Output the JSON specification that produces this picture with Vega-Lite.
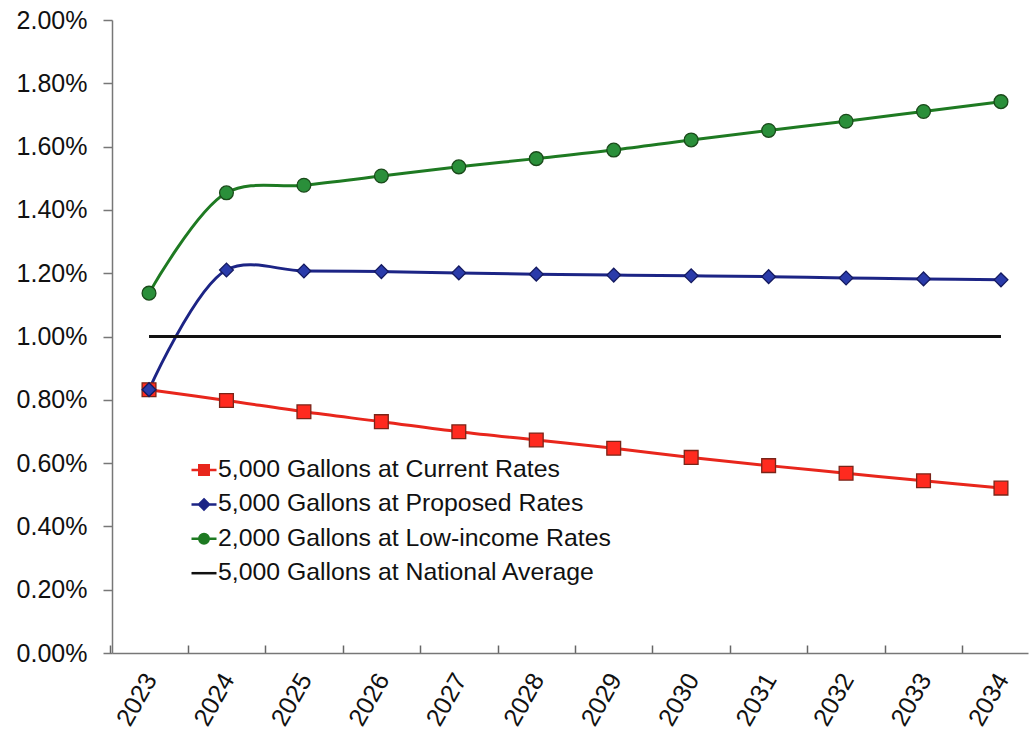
{
  "$schema": "https://vega.github.io/schema/vega-lite/v6.json",
  "width": 916,
  "height": 633,
  "autosize": {"type": "none"},
  "padding": {"left": 112, "top": 20, "right": 3, "bottom": 81},
  "background": "white",
  "config": {"view": {"stroke": null}, "font": "Liberation Sans"},
  "data": {
    "values": [
      {"series": "5,000 Gallons at Current Rates", "year": 2023, "share": 0.00832},
      {"series": "5,000 Gallons at Current Rates", "year": 2024, "share": 0.00798},
      {"series": "5,000 Gallons at Current Rates", "year": 2025, "share": 0.00762},
      {"series": "5,000 Gallons at Current Rates", "year": 2026, "share": 0.00731},
      {"series": "5,000 Gallons at Current Rates", "year": 2027, "share": 0.00699},
      {"series": "5,000 Gallons at Current Rates", "year": 2028, "share": 0.00673},
      {"series": "5,000 Gallons at Current Rates", "year": 2029, "share": 0.00647},
      {"series": "5,000 Gallons at Current Rates", "year": 2030, "share": 0.00618},
      {"series": "5,000 Gallons at Current Rates", "year": 2031, "share": 0.00592},
      {"series": "5,000 Gallons at Current Rates", "year": 2032, "share": 0.00568},
      {"series": "5,000 Gallons at Current Rates", "year": 2033, "share": 0.00544},
      {"series": "5,000 Gallons at Current Rates", "year": 2034, "share": 0.00521},
      {"series": "5,000 Gallons at Proposed Rates", "year": 2023, "share": 0.00832},
      {"series": "5,000 Gallons at Proposed Rates", "year": 2024, "share": 0.0121},
      {"series": "5,000 Gallons at Proposed Rates", "year": 2025, "share": 0.01207},
      {"series": "5,000 Gallons at Proposed Rates", "year": 2026, "share": 0.01205},
      {"series": "5,000 Gallons at Proposed Rates", "year": 2027, "share": 0.01201},
      {"series": "5,000 Gallons at Proposed Rates", "year": 2028, "share": 0.01197},
      {"series": "5,000 Gallons at Proposed Rates", "year": 2029, "share": 0.01194},
      {"series": "5,000 Gallons at Proposed Rates", "year": 2030, "share": 0.01192},
      {"series": "5,000 Gallons at Proposed Rates", "year": 2031, "share": 0.01189},
      {"series": "5,000 Gallons at Proposed Rates", "year": 2032, "share": 0.01185},
      {"series": "5,000 Gallons at Proposed Rates", "year": 2033, "share": 0.01182},
      {"series": "5,000 Gallons at Proposed Rates", "year": 2034, "share": 0.01179},
      {"series": "2,000 Gallons at Low-income Rates", "year": 2023, "share": 0.01137},
      {"series": "2,000 Gallons at Low-income Rates", "year": 2024, "share": 0.01454},
      {"series": "2,000 Gallons at Low-income Rates", "year": 2025, "share": 0.01478},
      {"series": "2,000 Gallons at Low-income Rates", "year": 2026, "share": 0.01507},
      {"series": "2,000 Gallons at Low-income Rates", "year": 2027, "share": 0.01536},
      {"series": "2,000 Gallons at Low-income Rates", "year": 2028, "share": 0.01562},
      {"series": "2,000 Gallons at Low-income Rates", "year": 2029, "share": 0.01589},
      {"series": "2,000 Gallons at Low-income Rates", "year": 2030, "share": 0.01621},
      {"series": "2,000 Gallons at Low-income Rates", "year": 2031, "share": 0.01651},
      {"series": "2,000 Gallons at Low-income Rates", "year": 2032, "share": 0.0168},
      {"series": "2,000 Gallons at Low-income Rates", "year": 2033, "share": 0.01711},
      {"series": "2,000 Gallons at Low-income Rates", "year": 2034, "share": 0.01742},
      {"series": "5,000 Gallons at National Average", "year": 2023, "share": 0.01},
      {"series": "5,000 Gallons at National Average", "year": 2024, "share": 0.01},
      {"series": "5,000 Gallons at National Average", "year": 2025, "share": 0.01},
      {"series": "5,000 Gallons at National Average", "year": 2026, "share": 0.01},
      {"series": "5,000 Gallons at National Average", "year": 2027, "share": 0.01},
      {"series": "5,000 Gallons at National Average", "year": 2028, "share": 0.01},
      {"series": "5,000 Gallons at National Average", "year": 2029, "share": 0.01},
      {"series": "5,000 Gallons at National Average", "year": 2030, "share": 0.01},
      {"series": "5,000 Gallons at National Average", "year": 2031, "share": 0.01},
      {"series": "5,000 Gallons at National Average", "year": 2032, "share": 0.01},
      {"series": "5,000 Gallons at National Average", "year": 2033, "share": 0.01},
      {"series": "5,000 Gallons at National Average", "year": 2034, "share": 0.01}
    ]
  },
  "encoding": {
    "x": {
      "field": "year",
      "type": "ordinal",
      "sort": null,
      "scale": {"type": "point", "padding": 0.4135, "align": 0.578},
      "axis": {
        "title": null,
        "labelAngle": -60,
        "labelFontSize": 25,
        "labelColor": "#111111",
        "labelPadding": 30,
        "labelOffset": 40,
        "tickSize": -8,
        "tickOffset": -38.7,
        "tickColor": "#666666",
        "tickWidth": 1.5,
        "domainColor": "#777777",
        "domainWidth": 1.5,
        "grid": false
      }
    },
    "y": {
      "field": "share",
      "type": "quantitative",
      "scale": {"domain": [0, 0.02], "nice": false},
      "axis": {
        "title": null,
        "format": ".2%",
        "values": [0, 0.002, 0.004, 0.006, 0.008, 0.01, 0.012, 0.014, 0.016, 0.018, 0.02],
        "labelFontSize": 25,
        "labelColor": "#111111",
        "labelPadding": 16,
        "tickSize": 9,
        "tickColor": "#777777",
        "tickWidth": 1.5,
        "domainColor": "#777777",
        "domainWidth": 1.5,
        "grid": false
      }
    }
  },
  "layer": [
    {
      "mark": {"type": "line", "interpolate": "catmull-rom", "strokeWidth": 3},
      "encoding": {
        "color": {
          "field": "series",
          "type": "nominal",
          "scale": {
            "domain": [
              "5,000 Gallons at Current Rates",
              "5,000 Gallons at Proposed Rates",
              "2,000 Gallons at Low-income Rates",
              "5,000 Gallons at National Average"
            ],
            "range": ["#E8261C", "#1C2485", "#1E7A22", "#111111"]
          },
          "legend": {
            "title": null,
            "orient": "none",
            "legendX": 78,
            "legendY": 436,
            "padding": 0,
            "labelFontSize": 24.8,
            "labelColor": "#111111",
            "labelOffset": 0,
            "labelLimit": 600,
            "rowPadding": 8.4,
            "symbolSize": 625,
            "symbolStrokeWidth": 2.5,
            "encode": {
              "symbols": {
                "update": {
                  "shape": {"signal": "datum.value === '5,000 Gallons at Current Rates' ? 'M-1,0H1M-0.38,-0.38H0.38V0.38H-0.38Z' : datum.value === '5,000 Gallons at Proposed Rates' ? 'M-1,0H1M0,-0.4L0.4,0L0,0.4L-0.4,0Z' : datum.value === '2,000 Gallons at Low-income Rates' ? 'M-1,0H1M-0.38,0A0.38,0.38,0,1,0,0.38,0A0.38,0.38,0,1,0,-0.38,0Z' : 'M-1,0H1'"},
                  "fill": {"scale": "color", "field": "value"},
                  "stroke": {"scale": "color", "field": "value"},
                  "opacity": {"value": 1}
                }
              }
            }
          }
        }
      }
    },
    {
      "transform": [{"filter": "datum.series !== '5,000 Gallons at National Average'"}],
      "mark": {"type": "point", "filled": true, "strokeWidth": 1.3, "opacity": 1, "size": 190},
      "encoding": {
        "fill": {
          "field": "series",
          "type": "nominal",
          "scale": {
            "domain": ["5,000 Gallons at Current Rates", "5,000 Gallons at Proposed Rates", "2,000 Gallons at Low-income Rates"],
            "range": ["#FF2A1F", "#2A3BAA", "#2A8F3A"]
          },
          "legend": null
        },
        "stroke": {
          "field": "series",
          "type": "nominal",
          "scale": {
            "domain": ["5,000 Gallons at Current Rates", "5,000 Gallons at Proposed Rates", "2,000 Gallons at Low-income Rates"],
            "range": ["#7A2418", "#141A60", "#1A4A1A"]
          },
          "legend": null
        },
        "shape": {
          "field": "series",
          "type": "nominal",
          "scale": {
            "domain": ["5,000 Gallons at Current Rates", "5,000 Gallons at Proposed Rates", "2,000 Gallons at Low-income Rates"],
            "range": ["square", "diamond", "circle"]
          },
          "legend": null
        }
      }
    }
  ]
}
